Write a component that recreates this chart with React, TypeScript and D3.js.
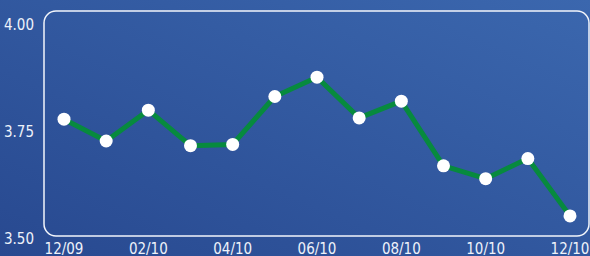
import React, { useRef, useEffect } from "react";
import * as d3 from "d3";

const months = ["12/09", "01/10", "02/10", "03/10", "04/10", "05/10", "06/10", "07/10", "08/10", "09/10", "10/10", "11/10", "12/10"];
const values = [3.78, 3.729, 3.801, 3.718, 3.721, 3.833, 3.878, 3.783, 3.822, 3.671, 3.641, 3.688, 3.554];
const yTicks = [3.5, 3.75, 4.0];

const W = 590;
const H = 256;
const font = "'Liberation Sans Narrow', 'DejaVu Sans Condensed', 'Open Sans', sans-serif";

const App = () => {
    const ref = useRef<SVGSVGElement>(null);

    useEffect(() => {
        const svg = d3.select(ref.current);
        svg.selectAll("*").remove();

        const defs = svg.append("defs");
        const grad = defs.append("linearGradient")
            .attr("id", "bg")
            .attr("x1", "0").attr("y1", "1").attr("x2", "1").attr("y2", "0");
        grad.append("stop").attr("offset", "0").attr("stop-color", "#284990");
        grad.append("stop").attr("offset", "1").attr("stop-color", "#3b67ae");

        svg.append("rect").attr("width", W).attr("height", H).attr("fill", "url(#bg)");

        // frame
        svg.append("rect")
            .attr("x", 44).attr("y", 11)
            .attr("width", 545).attr("height", 225)
            .attr("rx", 12)
            .attr("fill", "none")
            .attr("stroke", "#f2f5fb")
            .attr("stroke-width", 1.5);

        const x = d3.scalePoint().domain(months).range([64, 570]);
        const y = d3.scaleLinear().domain([3.5, 4.0]).range([239, 25]);

        // y labels
        svg.append("g").selectAll("text")
            .data(yTicks)
            .join("text")
            .attr("x", 34)
            .attr("y", d => y(d))
            .attr("dy", "0.35em")
            .attr("text-anchor", "end")
            .attr("fill", "#eef2fa")
            .attr("font-family", font)
            .attr("font-size", 15)
            .text(d => d.toFixed(2));

        // x labels
        svg.append("g").selectAll("text")
            .data(months.filter((_, i) => i % 2 === 0))
            .join("text")
            .attr("x", d => x(d)!)
            .attr("y", 254)
            .attr("text-anchor", "middle")
            .attr("fill", "#eef2fa")
            .attr("font-family", font)
            .attr("font-size", 15)
            .text(d => d);

        const line = d3.line<number>()
            .x((_, i) => x(months[i])!)
            .y(d => y(d));

        svg.append("path")
            .datum(values)
            .attr("d", line)
            .attr("fill", "none")
            .attr("stroke", "#078a3e")
            .attr("stroke-width", 5)
            .attr("stroke-linejoin", "round");

        svg.append("g").selectAll("circle")
            .data(values)
            .join("circle")
            .attr("cx", (_, i) => x(months[i])!)
            .attr("cy", d => y(d))
            .attr("r", 6.5)
            .attr("fill", "#ffffff");
    }, []);

    return (
        <svg ref={ref} width={W} height={H} style={{ position: "absolute", left: 0, top: 0, display: "block" }}></svg>
    );
};

export default App;
